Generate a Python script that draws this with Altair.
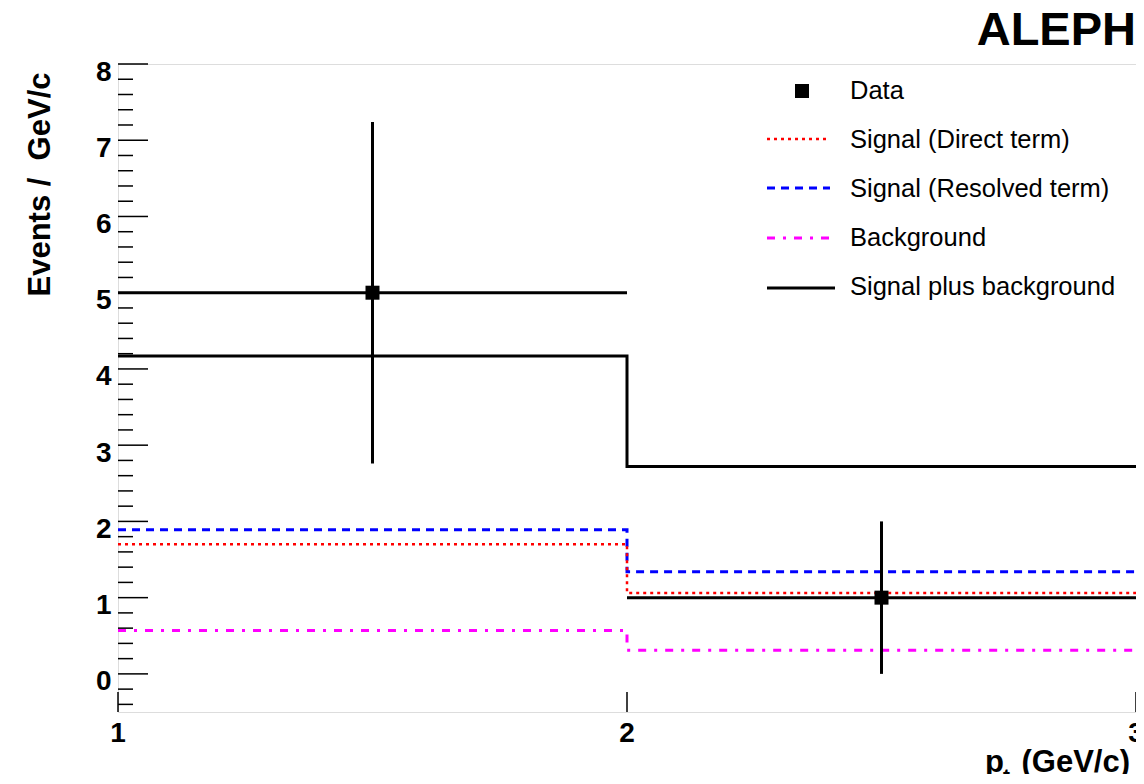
import altair as alt
import pandas as pd

# ---------------- data ----------------
bin_edges = [1.0, 2.0, 3.0]
bin_centers = [1.5, 2.5]
data_counts = [5.0, 1.0]
data_err_lo = [2.76, 0.0]
data_err_hi = [7.24, 2.0]

sig_direct = [1.70, 1.06]
sig_resolved = [1.89, 1.34]
background = [0.57, 0.31]
sig_plus_bkg = [4.17, 2.72]

x_tick_values = [1, 2, 3]
x_tick_labels = ["1", "2", "3"]
y_major = [0, 1, 2, 3, 4, 5, 6, 7, 8]
y_minor = [round(-0.4 + 0.2 * i, 1) for i in range(42)]
y_minor = [v for v in y_minor if abs(v - round(v)) > 1e-6]

legend_labels = ["Data", "Signal (Direct term)", "Signal (Resolved term)",
                 "Background", "Signal plus background"]

FONT = "Liberation Sans"
W, H = 1018, 648

x_scale = alt.Scale(domain=[1, 3], nice=False, zero=False)
y_scale = alt.Scale(domain=[-0.5, 8], nice=False, zero=False)

y_axis = alt.Axis(values=y_major, format="d", ticks=False, tickSize=0,
                  domain=False, grid=False, labelFont=FONT, labelFontWeight="bold",
                  labelFontSize=28, labelPadding=7, labelOffset=8, labelColor="black",
                  labelOverlap=False, labelBound=False, labelFlush=False,
                  title="Events /\u00a0 GeV/c", titleFont=FONT, titleFontSize=31,
                  titleFontWeight="bold", titleColor="black", titleAngle=270,
                  titleX=-78, titleY=8, titleAlign="right", titleBaseline="middle")


def X(field):
    return alt.X(f"{field}:Q", scale=x_scale, axis=None)


def Y(field):
    return alt.Y(f"{field}:Q", scale=y_scale, axis=y_axis)


def hist_df(vals):
    return pd.DataFrame({"x": bin_edges, "y": list(vals) + [vals[-1]]})


def hist(vals, color, width, dash=None):
    kw = dict(interpolate="step-after", color=color, strokeWidth=width, clip=False)
    if dash:
        kw["strokeDash"] = dash
    return alt.Chart(hist_df(vals)).mark_line(**kw).encode(x=X("x"), y=Y("y"))


# ---------------- histograms ----------------
h_sum = hist(sig_plus_bkg, "black", 3)
h_res = hist(sig_resolved, "#0000ff", 3, [8, 6])
h_dir = hist(sig_direct, "#ff0000", 2.5, [3, 4])
h_bkg = hist(background, "#ff00ff", 3, [8, 8, 3, 8])

# ---------------- data points ----------------
pts = pd.DataFrame({
    "xc": bin_centers, "xlo": bin_edges[:-1], "xhi": bin_edges[1:],
    "y": data_counts, "elo": data_err_lo, "ehi": data_err_hi,
})
err_h = alt.Chart(pts).mark_rule(color="black", strokeWidth=3).encode(
    x=X("xlo"), x2="xhi", y=Y("y"))
err_v = alt.Chart(pts).mark_rule(color="black", strokeWidth=3).encode(
    x=X("xc"), y=Y("elo"), y2="ehi")
markers = alt.Chart(pts).mark_square(size=196, color="black", opacity=1,
                                     filled=True).encode(x=X("xc"), y=Y("y"))

# ---------------- inward ticks and x labels ----------------
ymaj_df = pd.DataFrame({"v": y_major})
ymin_df = pd.DataFrame({"v": y_minor})
xt_df = pd.DataFrame({"v": x_tick_values, "lab": x_tick_labels})
t_ymaj = alt.Chart(ymaj_df).mark_rule(color="black", strokeWidth=1.5).encode(
    x=alt.value(0), x2=alt.value(30), y=Y("v"))
t_ymin = alt.Chart(ymin_df).mark_rule(color="black", strokeWidth=1.5).encode(
    x=alt.value(0), x2=alt.value(15), y=Y("v"))
t_x = alt.Chart(xt_df).mark_rule(color="black", strokeWidth=1.5).encode(
    x=X("v"), y=alt.value(H), y2=alt.value(H - 20))
x_labels = alt.Chart(xt_df).mark_text(font=FONT, fontSize=28, fontWeight="bold",
                                      align="center", baseline="alphabetic",
                                      color="black").encode(
    x=X("v"), y=alt.value(H + 30), text="lab:N")

# ---------------- legend ----------------
one = pd.DataFrame({"a": [0]})
row_base = [35, 84, 133, 182, 231]
row_mid = [27, 75, 124, 174, 224]
leg_x0, leg_x1, leg_text_x = 649, 712, 732

leg_layers = []
leg_layers.append(alt.Chart(one).mark_square(size=196, color="black", opacity=1, filled=True)
                  .encode(x=alt.value(684), y=alt.value(row_mid[0])))
leg_styles = [("#ff0000", 2.5, [3, 4]), ("#0000ff", 3, [8, 6]),
              ("#ff00ff", 3, [8, 8, 3, 8]), ("black", 3, None)]
for i, (c, w, d) in enumerate(leg_styles):
    kw = dict(color=c, strokeWidth=w)
    if d:
        kw["strokeDash"] = d
    leg_layers.append(alt.Chart(one).mark_rule(**kw).encode(
        x=alt.value(leg_x0), x2=alt.value(leg_x1 + (5 if d is None else 0)),
        y=alt.value(row_mid[i + 1])))
for i, lab in enumerate(legend_labels):
    leg_layers.append(alt.Chart(one).mark_text(
        text=lab, font=FONT, fontSize=25.5, align="left", baseline="alphabetic",
        color="black").encode(x=alt.value(leg_text_x), y=alt.value(row_base[i])))

# ---------------- texts ----------------
aleph = alt.Chart(one).mark_text(text="ALEPH", font=FONT, fontSize=47, fontWeight="bold",
                                 align="right", baseline="alphabetic", color="black").encode(
    x=alt.value(W), y=alt.value(-19))
xt_p = alt.Chart(one).mark_text(text="p", font=FONT, fontSize=31, fontWeight="bold",
                                align="left", baseline="alphabetic", color="black").encode(
    x=alt.value(867), y=alt.value(708))
xt_t = alt.Chart(one).mark_text(text="t", font=FONT, fontSize=21, fontWeight="bold",
                                align="left", baseline="alphabetic", color="black").encode(
    x=alt.value(885), y=alt.value(719))
xt_rest = alt.Chart(one).mark_text(text="(GeV/c)", font=FONT, fontSize=31, fontWeight="bold",
                                   align="right", baseline="alphabetic", color="black").encode(
    x=alt.value(1012), y=alt.value(708))

chart = alt.layer(
    t_ymaj, t_ymin, t_x, x_labels,
    h_sum, h_res, h_dir, h_bkg,
    err_h, err_v, markers,
    *leg_layers,
    aleph, xt_p, xt_t, xt_rest,
).properties(
    width=W, height=H,
    autosize=alt.AutoSizeParams(type="none"),
    padding={"left": 110, "top": 56, "right": 0, "bottom": 62},
).configure_view(
    stroke="black", strokeWidth=2, fill="white"
).configure(background="white")

chart.save("out.html", embed_options={"renderer": "svg", "actions": False})
